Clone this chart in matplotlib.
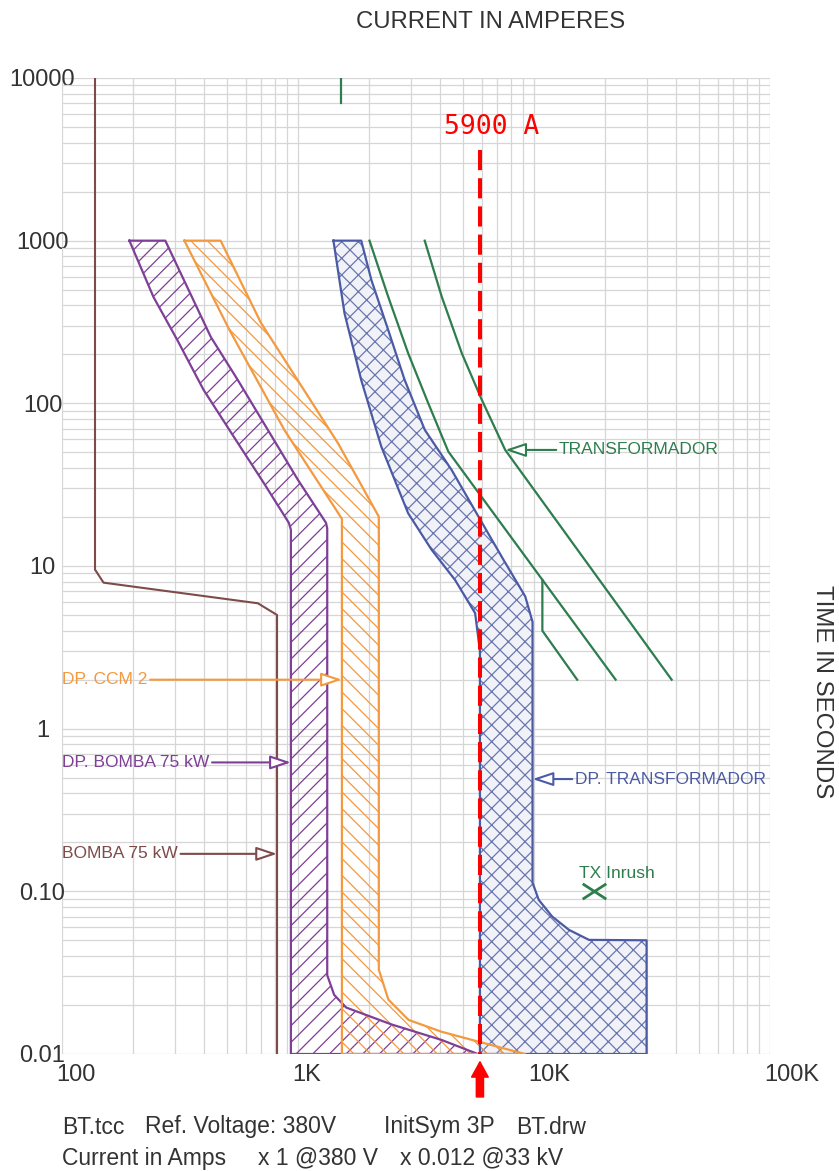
import matplotlib.pyplot as plt
from matplotlib.path import Path
from matplotlib.ticker import LogLocator, NullFormatter
from matplotlib.transforms import ScaledTranslation

plt.rcParams['font.family'] = ['Liberation Sans', 'DejaVu Sans']
plt.rcParams['hatch.linewidth'] = 0.9

# Axis ticks
x_ticks = [100, 1000, 10000, 100000]
x_tick_labels = ['100', '1K', '10K', '100K']
y_ticks = [0.01, 0.1, 1, 10, 100, 1000, 10000]
y_tick_labels = ['0.01', '0.10', '1', '10', '100', '1000', '10000']

# BOMBA 75 kW - motor starting curve
motor_amps = [138, 138, 150, 676, 815, 815]
motor_time = [10000, 9.5, 7.9, 5.9, 5.0, 0.01]

# DP. BOMBA 75 kW - breaker band (min / max edges)
dpb_min_amps = [193, 244, 308, 398, 556, 716, 915, 933, 933]
dpb_min_time = [1000, 451, 245, 121, 57, 32.4, 18.4, 16.7, 0.01]
dpb_max_amps = [274, 427, 556, 745, 1000, 1315, 1330, 1330, 1423, 1600, 2490, 4060, 5780]
dpb_max_time = [1000, 256, 139, 68.7, 33.8, 18.4, 17, 0.0305, 0.0231, 0.0193, 0.0152, 0.0122, 0.01]

# DP. CCM 2 - breaker band
ccm_min_amps = [330, 512, 875, 1535, 1535]
ccm_min_time = [1000, 283, 68.7, 19.5, 0.01]
ccm_max_amps = [470, 697, 1476, 2200, 2200, 2415, 2940, 4060, 5830, 9160]
ccm_max_time = [1000, 312, 57, 20.1, 0.033, 0.0216, 0.0162, 0.0137, 0.0119, 0.01]

# DP. TRANSFORMADOR - breaker band
dpt_min_amps = [1413, 1574, 1853, 2254, 2929, 3680, 4630, 5630, 5900, 5900]
dpt_min_time = [1000, 358, 139, 54.2, 21.1, 12.6, 8.2, 5.13, 3.0, 0.01]
dpt_max_amps = [1853, 2046, 2410, 2832, 3445, 4474, 5820, 7430, 9180, 9860, 9860,
                10470, 11940, 14060, 17100, 30000, 30000]
dpt_max_time = [1000, 573, 283, 139, 68.7, 39, 20.1, 10.9, 6.5, 4.53, 0.113,
                0.0887, 0.070, 0.058, 0.0503, 0.05, 0.01]

# TRANSFORMADOR - damage curves
tx1_amps = [2009, 2410, 2930, 3565, 4335, 22180]
tx1_time = [1000, 453, 203, 100, 50.5, 2]
tx2_amps = [3443, 4064, 4945, 6010, 7550, 38300]
tx2_time = [1000, 453, 203, 105, 51.7, 2]
tx_branch_amps = [10850, 10850, 15240]
tx_branch_time = [8.2, 4.0, 2]
tx_top_amps = [1520, 1520]
tx_top_time = [7000, 10000]
inrush_amps = 18000
inrush_time = 0.1

# Fault current marker
fault_amps = 5900
fault_top_time = 3600

purple = '#7e3f96'
orange = '#f3993f'
blue = '#4b5aa5'
green = '#2e7d4e'
brown = '#7d4b4a'
red = '#ff0000'
grey_text = '#333333'

fig = plt.figure(figsize=(8.39, 11.71), dpi=100)
ax = fig.add_axes([62 / 839, 117 / 1171, 708 / 839, 976 / 1171])
ax.set_xscale('log')
ax.set_yscale('log')
ax.set_xlim(100, 100000)
ax.set_ylim(0.01, 10000)

ax.xaxis.set_minor_locator(LogLocator(base=10, subs=range(2, 10), numticks=30))
ax.yaxis.set_minor_locator(LogLocator(base=10, subs=range(2, 10), numticks=30))
ax.xaxis.set_minor_formatter(NullFormatter())
ax.yaxis.set_minor_formatter(NullFormatter())
ax.grid(which='both', color='#d6d6d6', lw=0.9)
ax.set_axisbelow(True)
for s in ax.spines.values():
    s.set_visible(False)
ax.tick_params(which='both', length=0)

ax.set_xticks(x_ticks, x_tick_labels, fontsize=17, color=grey_text)
ax.set_yticks(y_ticks, y_tick_labels, fontsize=17, color=grey_text)
ax.tick_params(axis='x', pad=7)
ax.tick_params(axis='y', pad=14)
for lab in ax.get_yticklabels():
    lab.set_horizontalalignment('center')
for lab in ax.get_xticklabels():
    lab.set_horizontalalignment('left')
    lab.set_transform(lab.get_transform() + ScaledTranslation(-0.06, 0, fig.dpi_scale_trans))


def band(min_a, min_t, max_a, max_t, color, hatch, face, hatch_color):
    xs = min_a + max_a[::-1]
    ys = min_t + max_t[::-1]
    ax.fill(xs, ys, facecolor=face, edgecolor=hatch_color, hatch=hatch, lw=0, zorder=2)
    ax.plot(xs + xs[:1], ys + ys[:1], color=color, lw=1.6, zorder=4)


band(dpt_min_amps, dpt_min_time, dpt_max_amps, dpt_max_time, blue, 'xx', '#f1f2f8', '#6a76b0')
band(dpb_min_amps, dpb_min_time, dpb_max_amps, dpb_max_time, purple, '//', 'none', purple)
band(ccm_min_amps, ccm_min_time, ccm_max_amps, ccm_max_time, orange, '\\\\', 'none', orange)

ax.plot(motor_amps, motor_time, color=brown, lw=1.5, zorder=4)
for a, t in [(tx1_amps, tx1_time), (tx2_amps, tx2_time),
             (tx_branch_amps, tx_branch_time), (tx_top_amps, tx_top_time)]:
    ax.plot(a, t, color=green, lw=1.6, zorder=4)

xmark = Path([(-1, -0.65), (1, 0.65), (-1, 0.65), (1, -0.65)],
             [Path.MOVETO, Path.LINETO, Path.MOVETO, Path.LINETO])
ax.plot([inrush_amps], [inrush_time], marker=xmark, markersize=17, mew=2,
        color=green, ls='none', zorder=5)
ax.annotate('TX Inrush', xy=(inrush_amps, inrush_time), xytext=(-15, 18),
            textcoords='offset pixels', ha='left', va='center', fontsize=12.5, color=green)

# labels with hollow arrow heads
labels = [
    ('DP. CCM 2', 100, 2.0, 1535, 2.0, orange),
    ('DP. BOMBA 75 kW', 100, 0.62, 933, 0.62, purple),
    ('BOMBA 75 kW', 100, 0.17, 815, 0.17, brown),
    ('TRANSFORMADOR', 12770, 51.7, 7550, 51.7, green),
    ('DP. TRANSFORMADOR', 14930, 0.49, 9860, 0.49, blue),
]
for txt, ta, tt, pa, pt, c in labels:
    ax.annotate(txt, xy=(pa, pt), xytext=(ta, tt), ha='left', va='center',
                fontsize=12.5, color=c, zorder=6,
                arrowprops=dict(arrowstyle='-|>,head_length=0.9,head_width=0.3',
                                fc='white', ec=c, lw=1.5, mutation_scale=14,
                                shrinkA=0, shrinkB=0))

# fault current marker
ax.plot([fault_amps, fault_amps], [fault_top_time, 0.01], color=red, lw=2.9,
        dashes=(5, 2), zorder=7)
ax.annotate('5900 A', xy=(fault_amps, 5000), xytext=(12, 0), textcoords='offset pixels',
            ha='center', va='center', fontsize=19, color=red, family='DejaVu Sans Mono')
ax.annotate('', xy=(fault_amps, -0.008), xycoords=('data', 'axes fraction'),
            xytext=(fault_amps, -0.044), textcoords=('data', 'axes fraction'),
            annotation_clip=False,
            arrowprops=dict(arrowstyle='simple,head_length=0.55,head_width=0.6,tail_width=0.26',
                            color=red, shrinkA=0, shrinkB=0, mutation_scale=20))

fig.text(491 / 839, 1 - 22 / 1171, 'CURRENT IN AMPERES', ha='center', va='center',
         fontsize=17.2, color=grey_text)
fig.text(822 / 839, 1 - 692 / 1171, 'TIME IN SECONDS', ha='center', va='center',
         rotation=-90, fontsize=17.3, color=grey_text)

# footer
row1 = [('BT.tcc', 62), ('Ref. Voltage: 380V', 145), ('InitSym 3P', 384), ('BT.drw', 516)]
row2 = [('Current in Amps', 62), ('x 1 @380 V', 258), ('x 0.012 @33 kV', 400)]
for txt, px in row1:
    fig.text(px / 839, 1 - 1127 / 1171, txt, ha='left', va='center', fontsize=16.5, color=grey_text)
for txt, px in row2:
    fig.text(px / 839, 1 - 1158 / 1171, txt, ha='left', va='center', fontsize=16.5, color=grey_text)

fig.savefig('out.png', dpi=100)
